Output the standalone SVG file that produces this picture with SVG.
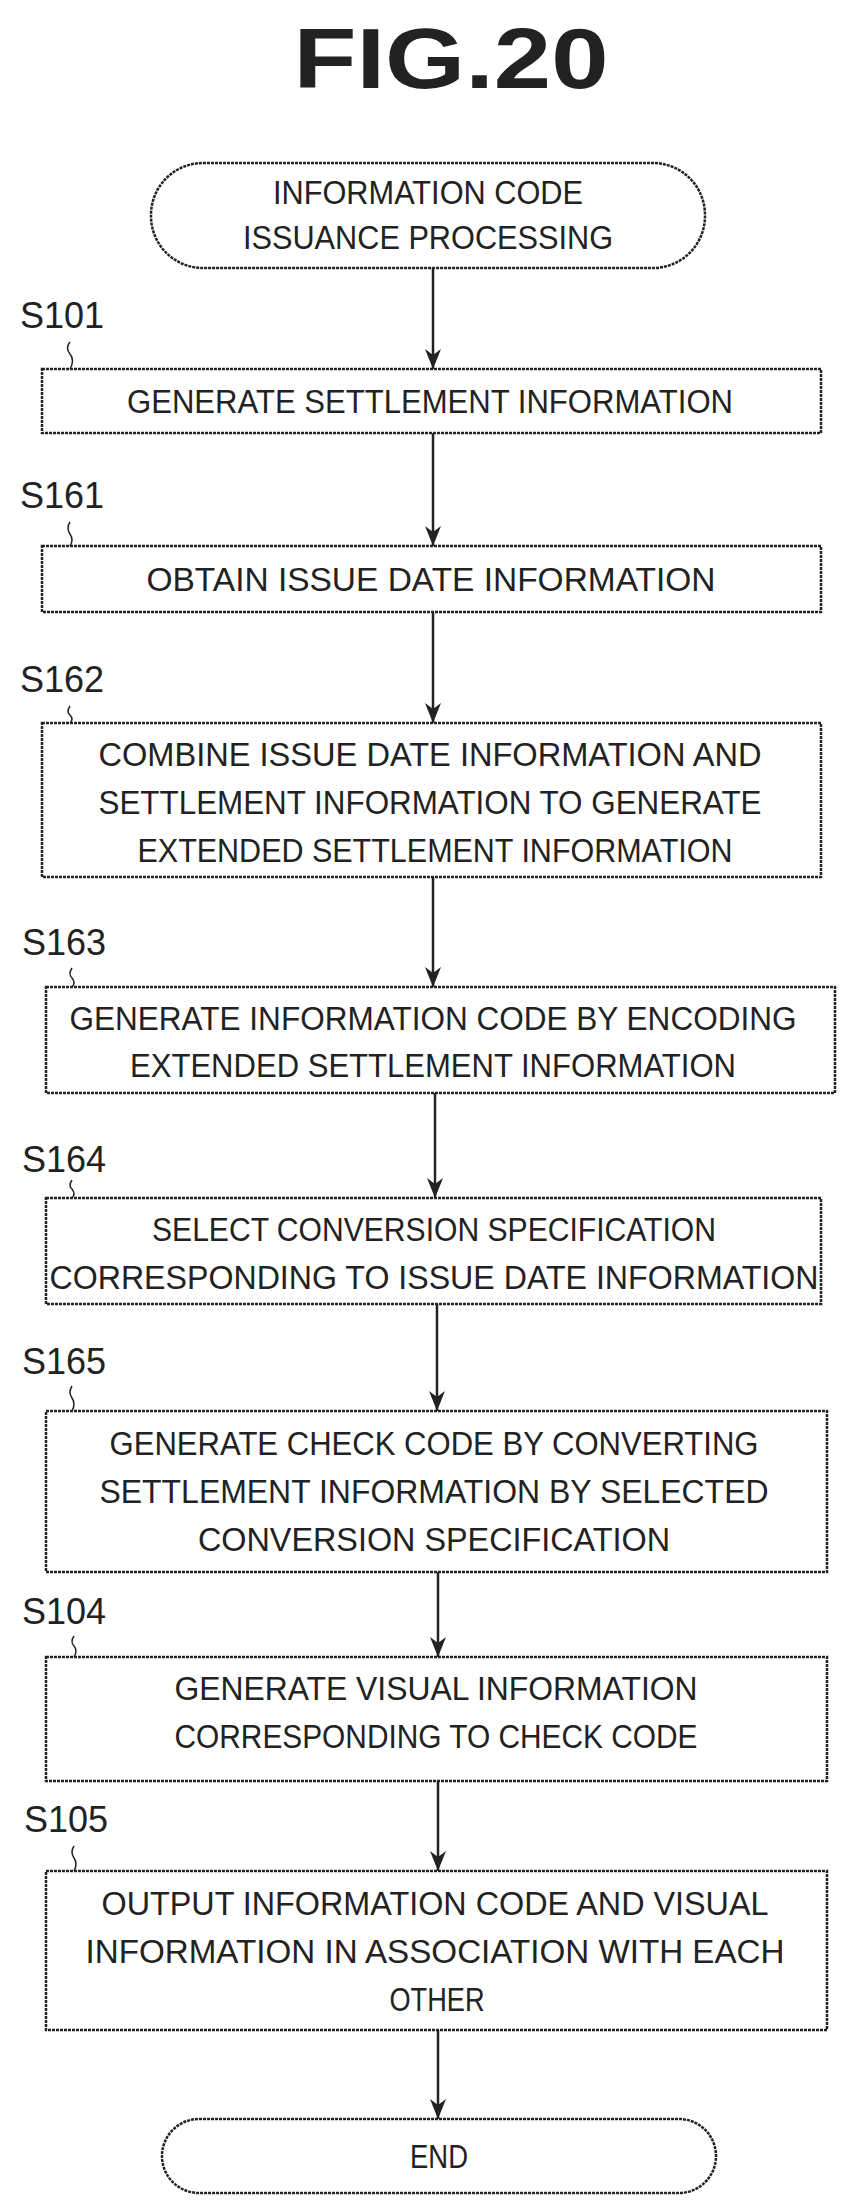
<svg xmlns="http://www.w3.org/2000/svg" width="846" height="2202" viewBox="0 0 846 2202">
<style>
.b{fill:#fff;stroke:#222;stroke-width:2.5;stroke-dasharray:3 1}
.t{font-family:"Liberation Sans",sans-serif;font-size:33px;fill:#222;text-anchor:middle}
.l{font-family:"Liberation Sans",sans-serif;font-size:36px;fill:#222}
.c{fill:none;stroke:#222;stroke-width:2.5}
.s{fill:none;stroke:#222;stroke-width:1.5}
</style>
<defs>
<marker id="ah" viewBox="0 0 20 20" refX="20" refY="10" markerWidth="20" markerHeight="20" markerUnits="userSpaceOnUse" orient="auto"><path d="M0,2 L20,10 L0,18 L6,10 Z" fill="#222"/></marker></defs>
<text x="451" y="88" style="font-family:'Liberation Sans',sans-serif;font-size:86px;font-weight:bold;fill:#222;text-anchor:middle" textLength="315" lengthAdjust="spacingAndGlyphs">FIG.20</text>
<g id="connectors">
<path class="c" marker-end="url(#ah)" d="M433,268 V369"/>
<path class="c" marker-end="url(#ah)" d="M433,433 V546"/>
<path class="c" marker-end="url(#ah)" d="M433,612 V723"/>
<path class="c" marker-end="url(#ah)" d="M433,877 V987"/>
<path class="c" marker-end="url(#ah)" d="M435,1093 V1198"/>
<path class="c" marker-end="url(#ah)" d="M437,1304 V1411"/>
<path class="c" marker-end="url(#ah)" d="M438,1572 V1657"/>
<path class="c" marker-end="url(#ah)" d="M438,1781 V1871"/>
<path class="c" marker-end="url(#ah)" d="M438,2030 V2119"/>
</g>
<g id="start"><rect class="b" x="151" y="163" width="554" height="105" rx="52"/>
<text class="t" x="428" y="204" textLength="310" lengthAdjust="spacingAndGlyphs">INFORMATION CODE</text>
<text class="t" x="428" y="249" textLength="370" lengthAdjust="spacingAndGlyphs">ISSUANCE PROCESSING</text></g>
<g id="S101"><text class="l" x="20" y="328">S101</text><path class="s" d="M70,342 q-5,6 0,12 q5,6 0,15"/>
<rect class="b" x="42" y="369" width="779" height="64"/>
<text class="t" x="430" y="413" textLength="606" lengthAdjust="spacingAndGlyphs">GENERATE SETTLEMENT INFORMATION</text></g>
<g id="S161"><text class="l" x="20" y="508">S161</text><path class="s" d="M70,522 q-4,6 0,12 q4,6 0,12"/>
<rect class="b" x="42" y="546" width="779" height="66"/>
<text class="t" x="431" y="591" textLength="569" lengthAdjust="spacingAndGlyphs">OBTAIN ISSUE DATE INFORMATION</text></g>
<g id="S162"><text class="l" x="20" y="692">S162</text><path class="s" d="M70,706 q-4,6 0,9 q4,4 0,8"/>
<rect class="b" x="42" y="723" width="779" height="154"/>
<text class="t" x="430" y="766" textLength="663" lengthAdjust="spacingAndGlyphs">COMBINE ISSUE DATE INFORMATION AND</text>
<text class="t" x="430" y="814" textLength="663" lengthAdjust="spacingAndGlyphs">SETTLEMENT INFORMATION TO GENERATE</text>
<text class="t" x="435" y="862" textLength="595" lengthAdjust="spacingAndGlyphs">EXTENDED SETTLEMENT INFORMATION</text></g>
<g id="S163"><text class="l" x="22" y="955">S163</text><path class="s" d="M72,968 q-4,6 0,10 q4,5 0,9"/>
<rect class="b" x="46" y="987" width="789" height="106"/>
<text class="t" x="433" y="1030" textLength="727" lengthAdjust="spacingAndGlyphs">GENERATE INFORMATION CODE BY ENCODING</text>
<text class="t" x="433" y="1077" textLength="606" lengthAdjust="spacingAndGlyphs">EXTENDED SETTLEMENT INFORMATION</text></g>
<g id="S164"><text class="l" x="22" y="1172">S164</text><path class="s" d="M72,1180 q-4,6 0,9 q4,5 0,9"/>
<rect class="b" x="46" y="1198" width="775" height="106"/>
<text class="t" x="434" y="1241" textLength="564" lengthAdjust="spacingAndGlyphs">SELECT CONVERSION SPECIFICATION</text>
<text class="t" x="434" y="1289" textLength="769" lengthAdjust="spacingAndGlyphs">CORRESPONDING TO ISSUE DATE INFORMATION</text></g>
<g id="S165"><text class="l" x="22" y="1374">S165</text><path class="s" d="M72,1386 q-4,6 0,12 q4,6 0,13"/>
<rect class="b" x="46" y="1411" width="781" height="161"/>
<text class="t" x="434" y="1455" textLength="649" lengthAdjust="spacingAndGlyphs">GENERATE CHECK CODE BY CONVERTING</text>
<text class="t" x="434" y="1503" textLength="669" lengthAdjust="spacingAndGlyphs">SETTLEMENT INFORMATION BY SELECTED</text>
<text class="t" x="434" y="1551" textLength="472" lengthAdjust="spacingAndGlyphs">CONVERSION SPECIFICATION</text></g>
<g id="S104"><text class="l" x="22" y="1624">S104</text><path class="s" d="M74,1636 q-4,6 0,10 q4,5 0,11"/>
<rect class="b" x="46" y="1657" width="781" height="124"/>
<text class="t" x="436" y="1700" textLength="523" lengthAdjust="spacingAndGlyphs">GENERATE VISUAL INFORMATION</text>
<text class="t" x="436" y="1748" textLength="523" lengthAdjust="spacingAndGlyphs">CORRESPONDING TO CHECK CODE</text></g>
<g id="S105"><text class="l" x="24" y="1832">S105</text><path class="s" d="M74,1846 q-4,6 0,12 q4,6 0,13"/>
<rect class="b" x="46" y="1871" width="781" height="159"/>
<text class="t" x="435" y="1915" textLength="667" lengthAdjust="spacingAndGlyphs">OUTPUT INFORMATION CODE AND VISUAL</text>
<text class="t" x="435" y="1963" textLength="699" lengthAdjust="spacingAndGlyphs">INFORMATION IN ASSOCIATION WITH EACH</text>
<text class="t" x="437" y="2011" textLength="95" lengthAdjust="spacingAndGlyphs">OTHER</text></g>
<g id="end"><rect class="b" x="162" y="2119" width="554" height="74" rx="37"/>
<text class="t" x="439" y="2168" textLength="58" lengthAdjust="spacingAndGlyphs">END</text></g>
</svg>
